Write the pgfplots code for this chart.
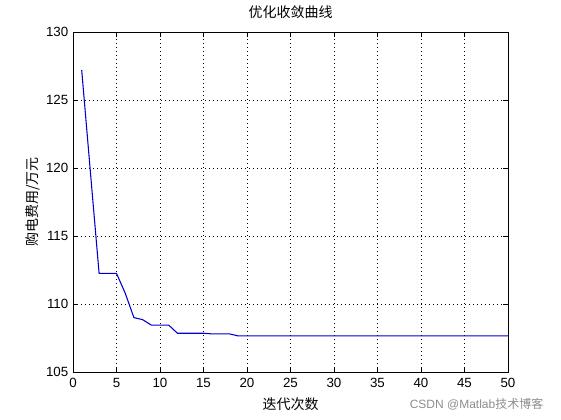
\documentclass[border=0pt]{standalone}
\usepackage{pgfplots}
\pgfplotsset{compat=1.18}
\usepackage{fontspec}
\setmainfont{Liberation Sans}
\newfontfamily\cjk{Noto Sans CJK SC}
\begin{document}
\begin{tikzpicture}
\path[use as bounding box] (0pt,0pt) rectangle (420.75pt,315pt);
\begin{axis}[
  at={(54.75pt,36pt)}, anchor=south west,
  scale only axis, width=326.25pt, height=255pt,
  xmin=0, xmax=50, ymin=105, ymax=130,
  xtick={0,5,...,50}, ytick={105,110,...,130},
  grid=major, major grid style={black, line width=0.7pt, dash pattern=on 0.7pt off 2.3pt},
  tick align=inside, major tick length=4pt,
  tick style={black, line width=0.5pt},
  axis line style={black, line width=0.5pt},
  /pgf/number format/assume math mode=true,
  tick label style={font=\fontsize{10}{12}\selectfont},
  xticklabel style={yshift=-1pt},
  title={\cjk 优化收敛曲线}, title style={font=\fontsize{10.5}{12}\selectfont, yshift=0.5pt},
  xlabel={\cjk 迭代次数}, ylabel={\cjk 购电费用/万元},
  label style={font=\fontsize{10.5}{12}\selectfont},
  xlabel style={yshift=-0.5pt},
  ylabel style={yshift=-2pt},
]
\addplot[color=blue!80!black, line width=0.8pt] coordinates {
(1,127.2) (2,119.7) (3,112.25) (4,112.25) (5,112.25) (6,110.8) (7,109.0) (8,108.85)
(9,108.45) (10,108.45) (11,108.45) (12,107.85) (13,107.85) (14,107.85) (15,107.85)
(16,107.8) (17,107.8) (18,107.8) (19,107.65) (20,107.65) (21,107.65) (22,107.65)
(23,107.65) (24,107.65) (25,107.65) (26,107.65) (27,107.65) (28,107.65) (29,107.65)
(30,107.65) (31,107.65) (32,107.65) (33,107.65) (34,107.65) (35,107.65) (36,107.65)
(37,107.65) (38,107.65) (39,107.65) (40,107.65) (41,107.65) (42,107.65) (43,107.65)
(44,107.65) (45,107.65) (46,107.65) (47,107.65) (48,107.65) (49,107.65) (50,107.65)
};
\end{axis}
\node[anchor=east, text=black!45, font=\fontsize{9}{11}\selectfont] at (411pt,12pt) {CSDN @Matlab{\cjk 技术博客}};
\end{tikzpicture}
\end{document}
